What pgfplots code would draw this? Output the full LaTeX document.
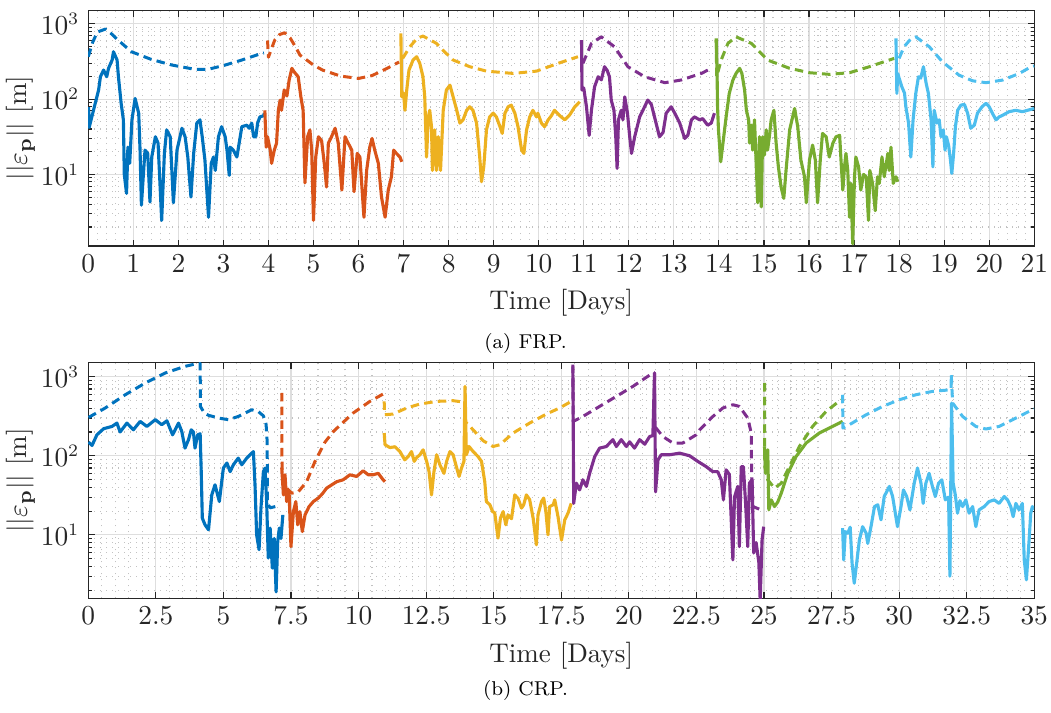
\documentclass[border=0pt]{standalone}
\usepackage{pgfplots}
\pgfplotsset{compat=1.18}
\definecolor{c1}{rgb}{0,0.447,0.741}
\definecolor{c2}{rgb}{0.85,0.325,0.098}
\definecolor{c3}{rgb}{0.929,0.694,0.125}
\definecolor{c4}{rgb}{0.494,0.184,0.556}
\definecolor{c5}{rgb}{0.466,0.674,0.188}
\definecolor{c6}{rgb}{0.301,0.745,0.933}
\definecolor{axgray}{rgb}{0.15,0.15,0.15}
\tikzset{sol/.style={line width=1.25pt, line join=round},
  dsh/.style={line width=1.2pt, line join=round, dash pattern=on 3.4pt off 2.1pt}}
\pgfplotsset{
    scale only axis, width=378.4pt, height=94.2pt,
    xmin=0,
    axis line style={axgray, line width=0.45pt},
    tick style={axgray, line width=0.45pt},
    major tick length=2.6pt, minor tick length=1.4pt,
    tick align=inside,
    xmajorgrids, ymajorgrids, xminorgrids, yminorgrids,
    major grid style={color=black!13, line width=0.45pt},
    minor grid style={color=black!24, dotted, line width=0.45pt},
    minor x tick num=4,
    minor x tick style={draw=none},
    ticklabel style={font=\fontsize{10.6}{12}\selectfont, text=axgray},
    label style={font=\fontsize{10.8}{13}\selectfont, text=axgray},
    ylabel={$||\varepsilon_{\mathbf{p}}||$ [m]},
    ylabel shift=-4.5pt,
    xlabel={Time [Days]},
    xticklabel style={/pgf/number format/fixed},
}
\begin{document}
\begin{tikzpicture}
\useasboundingbox (0,0) rectangle (420.4pt,284.8pt);
\begin{axis}[ymode=log, at={(35.3pt,186.4pt)}, anchor=south west,
  xmax=21, ymin=1.12, ymax=1500, xtick={0,1,...,21},
  ytick={10,100,1000},
  minor ytick={2,3,4,5,6,7,8,9,20,30,40,50,60,70,80,90,200,300,400,500,600,700,800,900}]
% blue
\addplot[c1, dsh] coordinates {(0,365)(0.1,570)(0.2,775)(0.38,850)(0.5,750)(0.66,608)(0.96,425)(1.4,336)(1.86,283)(2.37,248)(2.66,248)(3.04,283)(3.41,330)(3.85,404)(3.9,410)};
\addplot[c1, sol] coordinates {(0.007,78)(0.02,42)(0.23,132)(0.27,198)(0.34,243)(0.41,198)(0.45,256)(0.53,330)(0.56,425)(0.64,330)(0.67,198)(0.73,88)(0.78,53)(0.80,10)(0.85,5.6)(0.88,23)(0.92,14)(0.97,53)(1.04,102)(1.12,65)(1.15,21)(1.18,3.9)(1.23,11.3)(1.26,21)(1.32,19)(1.37,4.3)(1.41,17)(1.49,31.6)(1.55,26)(1.63,2.45)(1.69,19)(1.74,39)(1.82,31.6)(1.89,4.2)(1.97,21)(2.08,41)(2.15,31.6)(2.21,17)(2.28,5)(2.34,19)(2.41,48)(2.48,53)(2.53,31.6)(2.59,15.5)(2.67,2.7)(2.73,14)(2.78,17)(2.82,11.3)(2.89,31.6)(2.96,43)(3.04,31.6)(3.08,21)(3.13,9.7)(3.15,23)(3.22,21)(3.30,17)(3.35,26)(3.41,43)(3.52,45)(3.57,41)(3.63,48)(3.67,31.6)(3.72,31.6)(3.76,48)(3.81,58)(3.89,60)(3.91,65)};
% orange
\addplot[c2, dsh] coordinates {(3.98,600)(4.0,360)(4.07,470)(4.14,608)(4.25,720)(4.36,760)(4.48,650)(4.6,495)(4.7,384)(4.85,330)(5.0,283)(5.2,243)(5.6,202)(6.0,188)(6.3,205)(6.6,250)(6.9,310)};
\addplot[c2, sol] coordinates {(3.92,71)(3.95,23)(3.98,31.6)(4.04,21)(4.07,14)(4.13,21)(4.18,26)(4.22,71)(4.26,97)(4.29,71)(4.35,132)(4.41,110)(4.46,179)(4.52,256)(4.57,230)(4.66,198)(4.72,107)(4.77,71)(4.81,7.7)(4.87,31.6)(4.92,39)(4.96,21)(5.0,2.45)(5.05,17)(5.11,31.6)(5.18,28)(5.24,14)(5.29,6.8)(5.33,26)(5.40,31.6)(5.48,41)(5.55,26)(5.63,6.2)(5.70,31.6)(5.77,26)(5.85,21)(5.90,5.9)(5.97,19)(6.03,17)(6.07,7.6)(6.12,2.7)(6.18,11.3)(6.25,23)(6.30,30)(6.36,21)(6.44,14)(6.51,5)(6.59,2.7)(6.66,6.2)(6.73,9.3)(6.78,21)(6.84,19)(6.92,17)(6.96,14.7)};
% yellow
\addplot[c3, dsh] coordinates {(6.98,347)(7.14,495)(7.3,640)(7.43,687)(7.73,549)(7.9,430)(8.1,330)(8.47,269)(8.84,235)(9.43,219)(9.95,235)(10.43,298)(10.87,365)};
\addplot[c3, sol] coordinates {(6.94,745)(6.96,107)(7.0,120)(7.03,71)(7.07,132)(7.12,243)(7.21,330)(7.29,365)(7.36,298)(7.43,198)(7.47,107)(7.51,17)(7.55,58)(7.58,71)(7.62,43)(7.64,11.3)(7.69,39)(7.73,11.3)(7.77,31.6)(7.82,11.3)(7.88,71)(7.95,132)(8.03,153)(8.10,107)(8.18,71)(8.25,48)(8.32,53)(8.40,71)(8.47,79)(8.54,71)(8.62,48)(8.69,17)(8.73,8)(8.78,12.6)(8.84,39)(8.91,58)(8.99,65)(9.06,58)(9.14,43)(9.19,35)(9.25,65)(9.32,79)(9.39,83)(9.47,65)(9.54,43)(9.62,21)(9.67,19)(9.73,39)(9.80,58)(9.87,71)(9.95,58)(9.98,65)(10.06,48)(10.13,43)(10.21,53)(10.28,60)(10.35,71)(10.47,60)(10.58,53)(10.69,62)(10.80,79)(10.91,92)};
% purple
\addplot[c4, dsh] coordinates {(10.98,298)(11.17,549)(11.39,671)(11.68,495)(11.98,269)(12.35,198)(12.80,165)(13.16,179)(13.61,219)(13.83,256)};
\addplot[c4, sol] coordinates {(10.95,608)(10.96,132)(11.0,140)(11.06,79)(11.12,33)(11.17,71)(11.24,146)(11.32,198)(11.39,180)(11.46,269)(11.52,240)(11.57,198)(11.61,97)(11.67,71)(11.71,31.6)(11.74,12)(11.77,53)(11.83,71)(11.87,53)(11.91,107)(11.97,65)(12.02,31.6)(12.06,19)(12.13,31.6)(12.24,58)(12.35,79)(12.42,97)(12.50,85)(12.57,58)(12.68,31.6)(12.76,36)(12.83,65)(12.94,79)(13.02,65)(13.13,48)(13.24,30)(13.31,33)(13.39,53)(13.46,58)(13.57,53)(13.64,55)(13.75,45)(13.83,48)(13.90,65)};
% green
\addplot[c5, dsh] coordinates {(13.94,608)(13.95,198)(14.05,330)(14.20,549)(14.38,671)(14.72,549)(15.08,330)(15.57,256)(16.01,224)(16.45,213)(16.90,224)(17.34,269)(17.78,330)(17.89,347)};
\addplot[c5, sol] coordinates {(13.94,640)(13.96,198)(13.97,79)(13.99,39)(14.04,14.7)(14.09,26)(14.16,58)(14.23,119)(14.31,179)(14.38,219)(14.46,256)(14.51,219)(14.57,132)(14.61,71)(14.66,53)(14.68,26)(14.72,45)(14.75,21)(14.79,53)(14.83,12.6)(14.86,4.2)(14.90,31.6)(14.94,3.7)(14.97,31.6)(15.01,18)(15.05,39)(15.08,21)(15.12,31.6)(15.16,53)(15.22,71)(15.27,26)(15.32,12.6)(15.38,6.8)(15.44,4.8)(15.49,11.3)(15.57,39)(15.68,75)(15.75,43)(15.82,15.5)(15.90,9.3)(15.94,4.2)(16.01,15.5)(16.08,24.5)(16.14,15.5)(16.19,4.2)(16.25,15.5)(16.30,35)(16.38,31.6)(16.45,17)(16.53,26)(16.60,31.6)(16.68,33)(16.71,15.5)(16.75,6.2)(16.79,13)(16.82,19)(16.86,11.3)(16.90,2.7)(16.93,7.6)(16.97,1.2)(17.01,9.3)(17.04,17)(17.10,12.6)(17.15,6.2)(17.21,10)(17.27,9.3)(17.32,2.45)(17.35,11.3)(17.41,7.6)(17.47,3.3)(17.52,9.3)(17.56,7.6)(17.62,17)(17.67,9.3)(17.75,19)(17.78,11.3)(17.82,23)(17.87,7.6)(17.93,9.3)(17.97,8)};
% light blue
\addplot[c6, dsh] coordinates {(18.0,347)(18.11,495)(18.25,620)(18.37,671)(18.67,495)(18.96,313)(19.33,208)(19.63,175)(19.93,165)(20.30,179)(20.67,219)(20.93,269)(21,275)};
\addplot[c6, sol] coordinates {(17.93,640)(17.95,119)(17.97,219)(18.0,190)(18.06,146)(18.12,120)(18.15,79)(18.21,48)(18.26,17)(18.31,53)(18.37,119)(18.43,198)(18.48,190)(18.54,269)(18.60,162)(18.65,119)(18.71,53)(18.75,12.6)(18.78,71)(18.84,48)(18.89,53)(18.93,31.6)(18.98,39)(19.02,21)(19.05,31.6)(19.10,24)(19.14,15.5)(19.17,10.3)(19.21,19)(19.25,43)(19.30,71)(19.37,83)(19.45,85)(19.52,65)(19.59,41)(19.67,45)(19.74,65)(19.84,79)(19.93,88)(20.0,79)(20.07,65)(20.15,53)(20.22,58)(20.30,61)(20.44,68)(20.59,71)(20.74,68)(20.85,71)(21.0,75)};
\end{axis}
\begin{axis}[ymode=log, at={(35.3pt,45.5pt)}, anchor=south west,
  xmax=35, ymin=1.58, ymax=1500, xtick={0,2.5,...,35},
  ytick={10,100,1000},
  minor ytick={2,3,4,5,6,7,8,9,20,30,40,50,60,70,80,90,200,300,400,500,600,700,800,900}]
% blue
\addplot[c1, dsh] coordinates {(0.01,305)(0.63,402)(1.37,591)(2.11,832)(2.85,1114)(3.58,1350)(4.08,1480)(4.14,1480)(4.15,420)(4.3,345)(4.45,325)(4.82,300)(5.18,286)(5.55,314)(6.05,382)(6.3,360)(6.48,320)(6.58,250)(6.62,150)(6.63,25)(6.73,22)(6.97,23)(7.06,24)};
\addplot[c1, sol] coordinates {(0.01,149)(0.14,135)(0.32,184)(0.57,220)(0.88,235)(1.06,259)(1.18,200)(1.43,259)(1.67,213)(1.92,272)(2.17,235)(2.48,286)(2.72,247)(2.91,277)(3.12,184)(3.34,259)(3.46,203)(3.58,125)(3.71,160)(3.81,213)(3.89,200)(3.95,125)(4.05,184)(4.14,190)(4.18,63)(4.22,16.3)(4.32,13.4)(4.45,11.6)(4.57,32)(4.69,43)(4.85,26.4)(5.0,70)(5.13,81)(5.25,63)(5.37,77)(5.55,93.5)(5.68,77)(5.86,93)(5.99,103)(6.11,113)(6.17,43)(6.23,10)(6.32,6.5)(6.39,21.8)(6.48,63)(6.54,70)(6.60,26.4)(6.66,5.1)(6.73,12.2)(6.81,3.8)(6.88,9)(6.95,1.9)(7.01,8.2)(7.07,12.2)(7.13,9)(7.20,17.9)};
% orange
\addplot[c2, dsh] coordinates {(7.16,622)(7.17,63)(7.34,39)(7.53,33.7)(7.77,35)(8.08,47)(8.39,85)(8.76,149)(9.07,203)(9.80,347)(10.42,487)(10.91,604)};
\addplot[c2, sol] coordinates {(7.16,70)(7.22,32)(7.28,57.5)(7.34,26.4)(7.43,35)(7.50,7.1)(7.59,19.7)(7.68,26.4)(7.75,13.4)(7.83,19.7)(7.92,11)(8.02,17.9)(8.17,22.8)(8.33,26.4)(8.51,29.2)(8.66,33)(8.82,39)(9.19,47)(9.43,49.7)(9.68,57.5)(9.93,54.8)(10.17,64.6)(10.36,57.5)(10.54,57.5)(10.73,60)(10.91,49.7)(10.98,47)};
% yellow
\addplot[c3, dsh] coordinates {(10.95,487)(10.96,330)(11.28,337)(11.78,402)(12.27,451)(12.89,487)(13.50,497)(13.87,478)(13.93,478)(13.94,272)(14.24,213)(14.61,155)(14.98,131)(15.23,138)(15.72,194)(16.33,259)(16.95,337)(17.44,402)(17.87,487)};
\addplot[c3, sol] coordinates {(10.95,194)(10.98,138)(11.16,127)(11.35,130)(11.53,113)(11.71,89)(11.84,98)(11.96,113)(12.06,85)(12.15,95)(12.27,103)(12.39,119)(12.52,85)(12.61,63)(12.70,32)(12.79,63)(12.89,103)(13.01,77)(13.16,60)(13.26,85)(13.38,113)(13.50,103)(13.60,77)(13.72,54.8)(13.81,70)(13.90,85)(13.94,754)(13.99,103)(14.09,131)(14.24,113)(14.42,98)(14.55,85)(14.67,47)(14.73,26.4)(14.86,24)(14.96,19.7)(15.04,19)(15.16,9.1)(15.25,16.3)(15.35,19.7)(15.45,13.4)(15.53,17.9)(15.66,16)(15.78,32)(15.90,29)(16.03,21.8)(16.11,24)(16.21,32)(16.33,28)(16.46,16.3)(16.58,7.5)(16.64,17.9)(16.77,26.4)(16.85,29.2)(16.93,20)(17.01,10)(17.07,22.8)(17.20,24)(17.26,27.7)(17.38,17)(17.51,8.6)(17.63,15.5)(17.75,18.8)(17.87,25)};
% purple
\addplot[c4, dsh] coordinates {(17.93,1420)(17.94,272)(18.30,314)(18.92,421)(19.54,564)(20.15,754)(20.89,1114)(20.95,1114)(20.96,235)(21.26,175)(21.63,145)(22.0,145)(22.49,184)(22.62,213)(23.11,314)(23.48,402)(23.85,442)(24.09,421)(24.40,300)(24.53,194)(24.54,73)(24.59,22.8)(24.90,20.7)};
\addplot[c4, sol] coordinates {(17.93,1350)(17.96,25)(18.06,45)(18.18,37)(18.30,49.7)(18.43,41)(18.55,60)(18.74,98)(18.92,125)(19.17,131)(19.41,160)(19.54,131)(19.72,160)(19.91,131)(20.03,150)(20.21,125)(20.40,160)(20.59,140)(20.77,175)(20.89,180)(20.95,1114)(20.99,35)(21.08,89)(21.20,103)(21.51,103)(21.88,108)(22.25,100)(22.55,85)(22.86,73)(23.11,63)(23.29,63)(23.42,49.7)(23.50,27.7)(23.60,66.5)(23.72,58)(23.85,4.83)(23.91,30)(24.03,41)(24.09,7.1)(24.16,73)(24.24,73)(24.32,25)(24.40,7.1)(24.46,45)(24.56,50)(24.62,5.9)(24.71,8)(24.81,4.5)(24.86,1.5)(24.93,8.6)(24.99,12.7)};
% green
\addplot[c5, dsh] coordinates {(25.02,832)(25.03,73)(25.14,49.7)(25.39,39)(25.64,45)(25.94,73)(26.31,131)(26.80,235)(27.30,364)(27.85,511)};
\addplot[c5, sol] coordinates {(25.02,131)(25.06,60)(25.14,119)(25.18,20.7)(25.27,27.7)(25.39,22.8)(25.51,26)(25.64,33.7)(25.88,60)(26.19,98)(26.56,145)(27.05,194)(27.54,235)(27.91,272)};
% light blue
\addplot[c6, dsh] coordinates {(27.91,591)(27.92,224)(28.16,247)(28.78,330)(29.39,421)(30.01,511)(30.62,591)(31.24,652)(31.92,684)(31.93,1060)(31.98,464)(32.35,314)(32.84,235)(33.21,218)(33.70,235)(34.32,300)(34.93,382)(35,390)};
\addplot[c6, sol] coordinates {(27.91,12.2)(27.95,4.83)(28.01,11)(28.10,10.5)(28.19,12.5)(28.26,4.4)(28.34,2.45)(28.43,4.4)(28.53,8.6)(28.65,12.7)(28.78,10.5)(28.84,7.8)(28.96,12.7)(29.09,22.8)(29.21,24)(29.33,15.5)(29.45,30.6)(29.64,41)(29.76,30.6)(29.94,12.7)(30.07,22.8)(30.16,37)(30.28,30.6)(30.40,20.7)(30.56,45)(30.68,70)(30.81,45)(30.89,25)(30.99,45)(31.11,60)(31.24,40)(31.34,30.6)(31.46,45)(31.58,49.7)(31.71,27.7)(31.83,30)(31.88,3.0)(31.94,464)(32.0,45)(32.08,32)(32.16,18.8)(32.25,27)(32.35,22.8)(32.47,27.7)(32.59,18.8)(32.72,22.8)(32.84,12.7)(32.96,20.7)(33.15,22.8)(33.33,26.4)(33.52,27.7)(33.70,25)(33.89,30.6)(34.01,27.7)(34.13,22.8)(34.22,17)(34.32,25)(34.44,20.7)(34.56,25)(34.63,4.83)(34.71,2.7)(34.81,8.6)(34.87,18.8)(34.93,22.8)(35,21)};
\end{axis}
\node[font=\fontsize{8}{9.6}\selectfont, text=black] at (210.2pt,147.6pt) {(a) FRP.};
\node[font=\fontsize{8}{9.6}\selectfont, text=black] at (210.2pt,8.8pt) {(b) CRP.};
\end{tikzpicture}
\end{document}
